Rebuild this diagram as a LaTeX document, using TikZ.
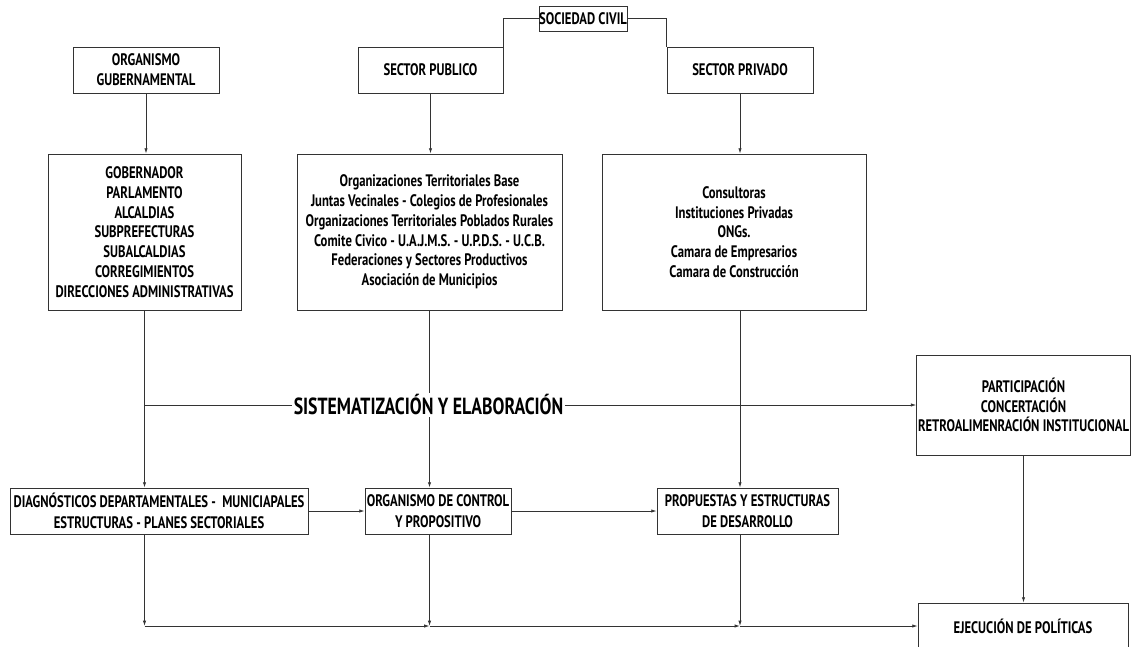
\documentclass[tikz,border=0pt]{standalone}
\usepackage{fontspec}
\usepackage{xcolor}
\usepackage{tikz}
\usetikzlibrary{arrows.meta}
\newfontfamily\diafont{PT Sans}[FakeStretch=0.76]

\tikzset{
  box/.style={draw=black!80, line width=0.6pt, align=center, inner xsep=1pt,
    font=\diafont\bfseries\fontsize{12.5}{14.8}\selectfont},
  lowbox/.style={box, font=\diafont\bfseries\fontsize{12.5}{16}\selectfont},
  link/.style={draw=black!80, line width=0.6pt},
  arr/.style={link, -{Latex[length=4pt,width=2.5pt]}}
}

\begin{document}
\begin{tikzpicture}[x=0.75pt,y=-0.75pt]
\useasboundingbox (0,0) rectangle (1131,646);

% fila superior
\node[box, minimum width=63pt, minimum height=18.75pt, inner sep=0pt] (soc) at (583,18.5) {SOCIEDAD CIVIL};
\node[box, minimum width=109.5pt, minimum height=34.5pt] (gub) at (146,70) {ORGANISMO\\GUBERNAMENTAL};
\node[box, minimum width=108.75pt, minimum height=34.5pt] (pub) at (430.5,70) {SECTOR PUBLICO};
\node[box, minimum width=109.5pt, minimum height=34.5pt] (priv) at (740,70) {SECTOR PRIVADO};

% cajas intermedias
\node[box, minimum width=144.75pt, minimum height=117pt] (gob) at (144.5,232)
  {GOBERNADOR\\PARLAMENTO\\ALCALDIAS\\SUBPREFECTURAS\\SUBALCALDIAS\\CORREGIMIENTOS\\DIRECCIONES ADMINISTRATIVAS};
\node[box, minimum width=198.75pt, minimum height=117pt] (org) at (429.5,232)
  {Organizaciones Territoriales Base\\Juntas Vecinales - Colegios de Profesionales\\Organizaciones Territoriales Poblados Rurales\\Comite Civico - U.A.J.M.S. - U.P.D.S. - U.C.B.\\Federaciones y Sectores Productivos\\Asociación de Municipios};
\node[box, minimum width=198pt, minimum height=117pt] (emp) at (734,232)
  {Consultoras\\Instituciones Privadas\\ONGs.\\Camara de Empresarios\\Camara de Construcción};
\node[box, minimum width=159.75pt, minimum height=75pt] (part) at (1023.5,405)
  {PARTICIPACIÓN\\CONCERTACIÓN\\RETROALIMENRACIÓN INSTITUCIONAL};

% fila inferior
\node[lowbox, minimum width=223.5pt, minimum height=34.5pt] (diag) at (159,511)
  {DIAGNÓSTICOS DEPARTAMENTALES -\ \ MUNICIAPALES\\ESTRUCTURAS - PLANES SECTORIALES};
\node[lowbox, minimum width=109.5pt, minimum height=34.5pt] (ctrl) at (438,511)
  {ORGANISMO DE CONTROL\\Y PROPOSITIVO};
\node[lowbox, minimum width=135.75pt, minimum height=34.5pt] (prop) at (747.5,511)
  {PROPUESTAS Y ESTRUCTURAS\\DE DESARROLLO};
\node[lowbox, minimum width=157.5pt, minimum height=34.5pt] (ejec) at (1023,626)
  {EJECUCIÓN DE POLÍTICAS};

% conectores
\draw[link] (soc.west) -| (pub.north east);
\draw[link] (soc.east) -| (priv.north west);
\draw[arr] (gub.south) -- (gub.south |- gob.north);
\draw[arr] (pub.south) -- (pub.south |- org.north);
\draw[arr] (priv.south) -- (priv.south |- emp.north);
\draw[arr] (gob.south) -- (gob.south |- diag.north);
\draw[arr] (org.south) -- (org.south |- ctrl.north);
\draw[arr] (emp.south -| priv.south) -- (priv.south |- prop.north);

\node[fill=white, inner sep=1pt, font=\diafont\bfseries\fontsize{17.5}{20}\selectfont] (sis) at (428.5,405)
  {SISTEMATIZACIÓN Y ELABORACIÓN};
\draw[link] (gob.south |- sis.west) -- (sis.west);
\draw[arr] (sis.east) -- (part.west);

\draw[arr] (diag.east) -- (ctrl.west);
\draw[arr] (ctrl.east) -- (prop.west);
\draw[arr] (part.south) -- (part.south |- ejec.north);

\coordinate (b1) at (gob.south |- ejec.west);
\coordinate (b2) at (org.south |- ejec.west);
\coordinate (b3) at (priv.south |- ejec.west);
\draw[arr] (diag.south -| gob.south) -- (b1);
\draw[arr] (ctrl.south -| org.south) -- (b2);
\draw[arr] (prop.south -| priv.south) -- (b3);
\draw[arr] (b1) -- (b2);
\draw[arr] (b2) -- (b3);
\draw[arr] (b3) -- (ejec.west);

\end{tikzpicture}
\end{document}
